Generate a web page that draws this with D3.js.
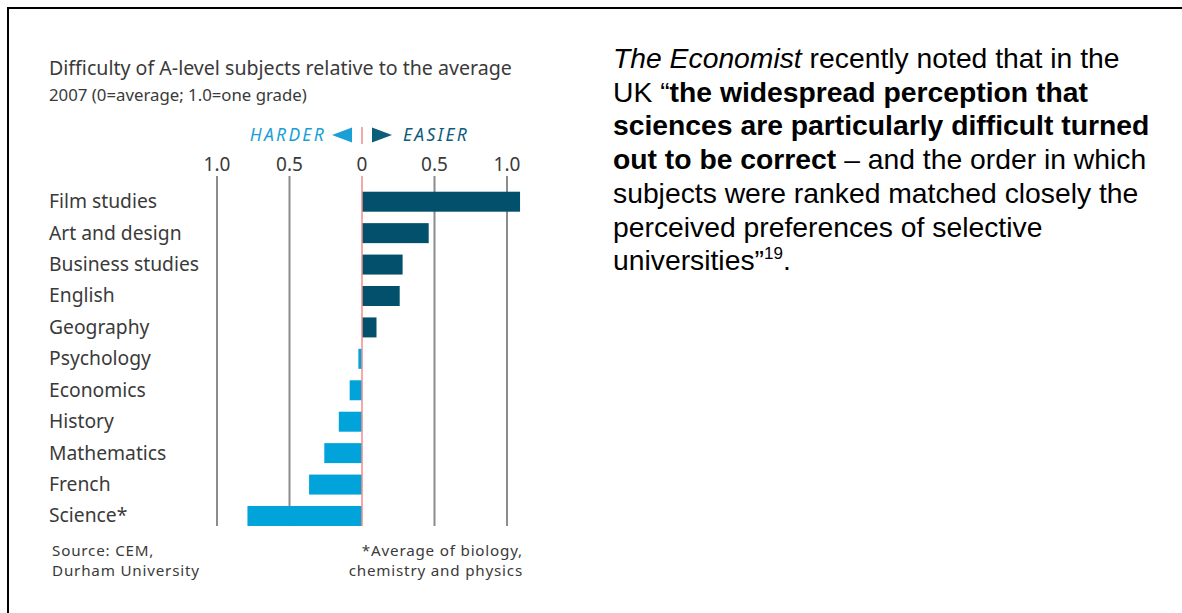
<!DOCTYPE html>
<html>
<head>
<meta charset="utf-8">
<script src="https://cdn.jsdelivr.net/npm/d3@7"></script>
<style>
  body { margin: 0; background: #fff; }
  svg { display: block; }
</style>
</head>
<body>
<script>
// subjects top to bottom, value > 0 = easier, < 0 = harder
var subjects = ['Film studies', 'Art and design', 'Business studies', 'English', 'Geography',
  'Psychology', 'Economics', 'History', 'Mathematics', 'French', 'Science*']
var values = [1.09, 0.46, 0.28, 0.26, 0.10, -0.025, -0.085, -0.16, -0.26, -0.365, -0.79]
var tickValues = [-1, -0.5, 0, 0.5, 1]
var tickLabels = ['1.0', '0.5', '0', '0.5', '1.0']

var width = 1182, height = 613

var svg = d3.select('body')
  .append('svg')
  .attr('width', width)
  .attr('height', height)

// page frame (top + left edge visible)
svg.append('rect')
  .attr('x', 8).attr('y', 8)
  .attr('width', 1200).attr('height', 700)
  .attr('fill', 'none')
  .attr('stroke', '#000')
  .attr('stroke-width', 2)

var chartFont = "'Noto Sans', sans-serif"
var textCol = '#3a3a3a'

let x = d3.scaleLinear()
  .domain([-1, 1])
  .range([217, 507])

let y = d3.scaleBand()
  .domain(subjects)
  .range([186, 531.7])
  .paddingInner(0.364)
  .paddingOuter(0.182)

// title
svg.append('text')
  .attr('x', 49).attr('y', 75)
  .attr('font-family', chartFont)
  .attr('font-size', 19.6)
  .attr('fill', textCol)
  .text('Difficulty of A-level subjects relative to the average')

svg.append('text')
  .attr('x', 49).attr('y', 101)
  .attr('font-family', chartFont)
  .attr('font-size', 16.8)
  .attr('fill', textCol)
  .text('2007 (0=average; 1.0=one grade)')

// harder / easier key
var keyY = 135
svg.append('text')
  .attr('x', x(0) - 36).attr('y', keyY + 6)
  .attr('text-anchor', 'end')
  .attr('font-family', chartFont)
  .attr('font-size', 17.5)
  .attr('font-style', 'italic')
  .attr('letter-spacing', 2.3)
  .attr('fill', '#1aa0d6')
  .text('HARDER')

svg.append('text')
  .attr('x', x(0) + 41).attr('y', keyY + 6)
  .attr('font-family', chartFont)
  .attr('font-size', 17.5)
  .attr('font-style', 'italic')
  .attr('letter-spacing', 2.3)
  .attr('fill', '#0d5c7a')
  .text('EASIER')

svg.append('path')
  .attr('d', 'M' + (x(0) - 10) + ',' + (keyY - 7.5) + 'L' + (x(0) - 10) + ',' + (keyY + 7.5) + 'L' + (x(0) - 30) + ',' + keyY + 'Z')
  .attr('fill', '#1aa0d6')

svg.append('path')
  .attr('d', 'M' + (x(0) + 10) + ',' + (keyY - 7.5) + 'L' + (x(0) + 10) + ',' + (keyY + 7.5) + 'L' + (x(0) + 30) + ',' + keyY + 'Z')
  .attr('fill', '#0d5c7a')

svg.append('line')
  .attr('x1', x(0)).attr('x2', x(0))
  .attr('y1', keyY - 8).attr('y2', keyY + 9)
  .attr('stroke', '#f08c8c')
  .attr('stroke-width', 1.5)

// tick labels
svg.selectAll('text.tick')
    .data(tickValues)
  .enter().append('text')
    .attr('class', 'tick')
    .attr('x', function (d) { return x(d) })
    .attr('y', 171)
    .attr('text-anchor', 'middle')
    .attr('font-family', chartFont)
    .attr('font-size', 19)
    .attr('fill', textCol)
    .text(function (d, i) { return tickLabels[i] })

// grid lines
svg.selectAll('line.grid')
    .data(tickValues.filter(function (d) { return d !== 0 }))
  .enter().append('line')
    .attr('class', 'grid')
    .attr('x1', function (d) { return x(d) })
    .attr('x2', function (d) { return x(d) })
    .attr('y1', 176).attr('y2', 526)
    .attr('stroke', '#8c8c8c')
    .attr('stroke-width', 2)

// bars
svg.selectAll('rect.bar')
    .data(subjects)
  .enter().append('rect')
    .attr('class', 'bar')
    .attr('x', function (d, i) { return x(Math.min(0, values[i])) })
    .attr('y', function (d) { return y(d) })
    .attr('width', function (d, i) { return Math.abs(x(values[i]) - x(0)) })
    .attr('height', y.bandwidth())
    .attr('fill', function (d, i) { return values[i] > 0 ? '#03506c' : '#00a3da' })

// zero line
svg.append('line')
  .attr('x1', x(0)).attr('x2', x(0))
  .attr('y1', 176).attr('y2', 526)
  .attr('stroke', '#f08c8c')
  .attr('stroke-width', 1.5)

// category labels
svg.selectAll('text.cat')
    .data(subjects)
  .enter().append('text')
    .attr('class', 'cat')
    .attr('x', 49)
    .attr('y', function (d) { return y(d) + y.bandwidth() / 2 })
    .attr('dy', '0.33em')
    .attr('font-family', chartFont)
    .attr('font-size', 19.3)
    .attr('fill', textCol)
    .text(function (d) { return d })

// footnotes
var foot = [['Source: CEM,', 'Durham University'], ['*Average of biology,', 'chemistry and physics']]
foot[0].forEach(function (t, i) {
  svg.append('text')
    .attr('x', 52).attr('y', 555.5 + i * 20.5)
    .attr('font-family', chartFont)
    .attr('font-size', 15.2)
    .attr('letter-spacing', 0.8)
    .attr('fill', textCol)
    .text(t)
})
foot[1].forEach(function (t, i) {
  svg.append('text')
    .attr('x', 523).attr('y', 555.5 + i * 20.5)
    .attr('text-anchor', 'end')
    .attr('font-family', chartFont)
    .attr('font-size', 15.2)
    .attr('letter-spacing', 0.8)
    .attr('fill', textCol)
    .text(t)
})

// quote on the right
var para = [
  [['The Economist', 'i'], [' recently noted that in the', '']],
  [['UK \u201c', ''], ['the widespread perception that', 'b']],
  [['sciences are particularly difficult turned', 'b']],
  [['out to be correct', 'b'], [' \u2013 and the order in which', '']],
  [['subjects were ranked matched closely the', '']],
  [['perceived preferences of selective', '']],
  [['universities\u201d', ''], ['19', 'sup'], ['.', '']]
]

var pText = svg.append('text')
  .attr('font-family', "'Liberation Sans', Arial, sans-serif")
  .attr('font-size', 28.3)
  .attr('fill', '#000')

para.forEach(function (line, li) {
  line.forEach(function (seg, si) {
    var ts = pText.append('tspan').text(seg[0])
    if (si === 0) ts.attr('x', 613).attr('y', 68 + li * 33.7)
    if (seg[1] === 'i') ts.attr('font-style', 'italic')
    if (seg[1] === 'b') ts.attr('font-weight', 'bold')
    if (seg[1] === 'sup') ts.attr('font-size', 17).attr('dy', -11)
    if (seg[0] === '.' && si === 2) ts.attr('dy', 11)
  })
})
</script>
</body>
</html>
